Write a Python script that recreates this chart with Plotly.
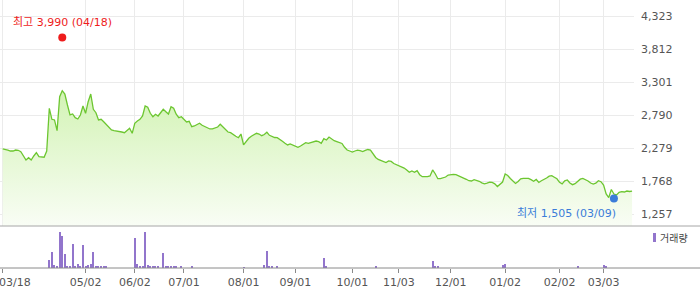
import pandas as pd
import plotly.graph_objects as go

# ---- trading calendar (KRX) ----
start_date = "2025-03-18"
end_date = "2026-03-18"
krx_holidays = [
    "2025-05-01", "2025-05-05", "2025-05-06", "2025-06-03", "2025-06-06",
    "2025-08-15", "2025-10-03", "2025-10-06", "2025-10-07", "2025-10-08",
    "2025-10-09", "2025-12-25", "2025-12-31", "2026-01-01", "2026-02-16",
    "2026-02-17", "2026-02-18", "2026-03-02",
]
dates = [d.strftime("%Y-%m-%d") for d in
         pd.bdate_range(start_date, end_date, freq="C", holidays=krx_holidays)]

# ---- closing prices ----
close = [
    2270, 2265, 2254, 2239, 2239, 2254, 2250, 2228, 2162, 2100,
    2135, 2100, 2162, 2213, 2151, 2151, 2142, 2239, 2898, 2728,
    2718, 2552, 3077, 3170, 3119, 2949, 2795, 2810, 2753, 2733,
    2795, 2934, 2821, 3000, 3119, 2883, 2830, 2718, 2728, 2691,
    2651, 2599, 2563, 2552, 2548, 2537, 2532, 2521, 2563, 2589,
    2512, 2667, 2702, 2728, 2779, 2934, 2914, 2821, 2768, 2806,
    2779, 2836, 2883, 2846, 2810, 2923, 2898, 2806, 2753, 2768,
    2728, 2687, 2697, 2614, 2625, 2640, 2667, 2636, 2614, 2599,
    2579, 2579, 2589, 2609, 2651, 2609, 2563, 2532, 2521, 2489,
    2466, 2444, 2501, 2332, 2393, 2435, 2466, 2486, 2512, 2501,
    2475, 2494, 2528, 2481, 2460, 2447, 2444, 2409, 2389, 2358,
    2332, 2347, 2332, 2316, 2296, 2316, 2339, 2367, 2358, 2367,
    2383, 2393, 2383, 2358, 2429, 2409, 2455, 2424, 2398, 2383,
    2367, 2355, 2296, 2254, 2239, 2223, 2239, 2251, 2244, 2231,
    2247, 2262, 2254, 2193, 2139, 2108, 2095, 2085, 2061, 2085,
    2077, 2046, 2030, 2018, 1992, 1976, 1946, 1910, 1930, 1910,
    1935, 1873, 1842, 1837, 1842, 1853, 1946, 1888, 1811, 1811,
    1822, 1837, 1868, 1879, 1879, 1873, 1858, 1837, 1822, 1802,
    1780, 1776, 1796, 1787, 1771, 1748, 1732, 1742, 1757, 1753,
    1732, 1691, 1725, 1760, 1884, 1861, 1814, 1771, 1737, 1768,
    1810, 1817, 1817, 1816, 1796, 1771, 1799, 1753, 1779, 1796,
    1822, 1851, 1859, 1834, 1810, 1756, 1731, 1777, 1791, 1745,
    1719, 1734, 1768, 1804, 1816, 1799, 1776, 1745, 1729, 1742,
    1780, 1765, 1714, 1575, 1520, 1644, 1575, 1560, 1601, 1611,
    1606, 1621, 1614, 1621,
]

# ---- volume (thousand shares) ----
volume = [
    0, 0, 0, 0, 0, 0, 0, 0, 0, 0, 0, 0, 0, 0, 0, 0, 0, 0, 83, 160,
    33, 23, 363, 323, 143, 23, 23, 243, 17, 43, 17, 233, 17, 33, 43, 163, 13, 13, 13, 13,
    13, 0, 0, 0, 0, 0, 0, 0, 0, 0, 0, 303, 43, 13, 13, 363, 33, 13, 13, 13,
    13, 0, 153, 13, 13, 17, 23, 13, 0, 13, 0, 0, 0, 23, 0, 0, 0, 0, 0, 0,
    0, 0, 0, 0, 0, 0, 0, 0, 0, 0, 0, 0, 0, 7, 0, 0, 0, 0, 0, 0,
    0, 33, 173, 13, 13, 0, 13, 0, 0, 0, 0, 0, 0, 0, 0, 0, 0, 0, 0, 0,
    0, 0, 0, 0, 103, 13, 0, 0, 0, 0, 0, 0, 0, 0, 0, 0, 0, 0, 0, 0,
    0, 0, 0, 0, 13, 0, 0, 0, 0, 0, 0, 0, 0, 0, 0, 0, 0, 0, 0, 0,
    0, 0, 0, 0, 0, 0, 73, 13, 13, 0, 0, 0, 0, 0, 0, 0, 0, 0, 0, 0,
    0, 0, 0, 0, 0, 0, 0, 0, 0, 0, 0, 0, 0, 33, 43, 0, 0, 0, 0, 0,
    0, 0, 0, 0, 0, 0, 0, 0, 0, 0, 0, 0, 0, 0, 0, 0, 0, 0, 0, 0,
    0, 0, 13, 0, 0, 0, 0, 0, 0, 0, 0, 0, 33, 13, 0, 0, 0, 0, 0, 0,
    0, 0, 0, 0,
]

# ---- extremes ----
high_date, high_value = "2025-04-18", 3990
low_date, low_value = "2026-03-09", 1505
high_label = "최고 3,990 (04/18)"
low_label = "최저 1,505 (03/09)"

# ---- axis ticks ----
x_tick_dates = ["2025-03-18", "2025-05-02", "2025-06-02", "2025-07-01", "2025-08-01",
                "2025-09-01", "2025-10-01", "2025-11-03", "2025-12-01", "2026-01-02",
                "2026-02-02", "2026-03-03"]
x_tick_text = ["03/18", "05/02", "06/02", "07/01", "08/01", "09/01", "10/01",
               "11/03", "12/01", "01/02", "02/02", "03/03"]
y_tick_vals = [1257, 1768, 2279, 2790, 3301, 3812, 4323]
y_tick_text = ["1,257", "1,768", "2,279", "2,790", "3,301", "3,812", "4,323"]
legend_label = "거래량"

FONT = "DejaVu Sans, Noto Sans CJK KR, sans-serif"
GREEN = "#6cc630"
PURPLE = "#9275cc"
RED = "#ee1c1c"
BLUE = "#3b7cd9"
GRID = "#ebebeb"
TICK_COLOR = "#555"

W, H = 700, 289
ML, MR, MT, MB = 0, 66, 0, 21
plot_w = W - ML - MR
plot_h = H - MT - MB
split = (268 - 226) / plot_h  # main / volume boundary (paper)

x_range = [-1.04, len(dates) - 1 + 0.75]

fig = go.Figure()

fig.add_trace(go.Scatter(
    x=dates, y=close, mode="lines",
    line=dict(color=GREEN, width=1.3),
    fill="tozeroy",
    fillgradient=dict(type="vertical",
                      colorscale=[[0, "#f9fdf5"], [1, "#d2f3b4"]],
                      start=1081, stop=3200),
    hoverinfo="skip", xaxis="x", yaxis="y",
))
fig.add_trace(go.Scatter(
    x=[high_date], y=[high_value], mode="markers",
    marker=dict(color=RED, size=8), xaxis="x", yaxis="y", hoverinfo="skip"))
fig.add_trace(go.Scatter(
    x=[low_date], y=[low_value], mode="markers",
    marker=dict(color=BLUE, size=8), xaxis="x", yaxis="y", hoverinfo="skip"))

fig.add_trace(go.Bar(
    x=dates, y=volume, marker=dict(color=PURPLE, line=dict(width=0)),
    width=0.42, xaxis="x2", yaxis="y2", hoverinfo="skip"))

hi_idx = dates.index(high_date)
lo_idx = dates.index(low_date)

# first tick label is drawn as an annotation, nudged right so it stays inside the page
axis_ticktext = [""] + x_tick_text[1:]

annotations = [
    dict(x=hi_idx, y=high_value, xref="x", yref="y", text=high_label,
         showarrow=False, yshift=15, xanchor="center", yanchor="middle",
         font=dict(family=FONT, size=11, color=RED)),
    dict(x=lo_idx, y=low_value, xref="x", yref="y", text=low_label,
         showarrow=False, yshift=-15, xshift=4, xanchor="right", yanchor="middle",
         font=dict(family=FONT, size=11, color=BLUE)),
    dict(x=(658 - ML) / plot_w, y=(268 - 238) / plot_h, xref="paper", yref="paper",
         text=legend_label, showarrow=False, xanchor="left", yanchor="middle",
         font=dict(family=FONT, size=10, color="#444")),
    dict(x=0, y=-(282 - 268) / plot_h, xref="paper", yref="paper",
         text=x_tick_text[0], showarrow=False, xanchor="left", yanchor="middle",
         xshift=-2, borderpad=0,
         font=dict(family=FONT, size=11, color=TICK_COLOR)),
]

shapes = [
    dict(type="line", xref="paper", yref="paper", x0=0, x1=W / plot_w,
         y0=split, y1=split, line=dict(color="#a6a6a6", width=1)),
    dict(type="line", xref="paper", yref="paper", x0=0, x1=W / plot_w,
         y0=0, y1=0, line=dict(color="#8a8a8a", width=1)),
    dict(type="rect", xref="paper", yref="paper",
         x0=(653 - ML) / plot_w, x1=(656 - ML) / plot_w,
         y0=(268 - 242) / plot_h, y1=(268 - 233) / plot_h,
         fillcolor=PURPLE, line=dict(width=0)),
]

fig.update_layout(
    template="none",
    width=W, height=H,
    margin=dict(l=ML, r=MR, t=MT, b=MB, autoexpand=False),
    paper_bgcolor="white", plot_bgcolor="white",
    showlegend=False,
    font=dict(family=FONT, size=11, color=TICK_COLOR),
    annotations=annotations, shapes=shapes,
    bargap=0,
    xaxis=dict(type="category", categoryorder="array", categoryarray=dates,
               range=x_range, domain=[0, 1], anchor="y", automargin=False,
               tickvals=x_tick_dates, showticklabels=False, ticks="",
               showgrid=True, gridcolor=GRID, gridwidth=1,
               zeroline=False, showline=False, fixedrange=True),
    yaxis=dict(domain=[split, 1], range=[1081, 4570], side="right", anchor="x",
               automargin=False,
               tickvals=y_tick_vals, ticktext=y_tick_text, ticks="",
               showgrid=True, gridcolor=GRID, gridwidth=1,
               zeroline=False, showline=False, ticklabelstandoff=6,
               tickfont=dict(family=FONT, size=11, color=TICK_COLOR)),
    xaxis2=dict(type="category", categoryorder="array", categoryarray=dates,
                range=x_range, domain=[0, 1], anchor="y2", automargin=False,
                tickvals=x_tick_dates, ticktext=axis_ticktext,
                ticks="outside", ticklen=4, tickcolor="#8a8a8a", tickwidth=1,
                showgrid=False, zeroline=False, showline=False,
                ticklabeloverflow="allow",
                tickfont=dict(family=FONT, size=11, color=TICK_COLOR)),
    yaxis2=dict(domain=[0, split], range=[0, 423], visible=False, anchor="x2",
                automargin=False),
)

fig.write_html("out.html")
